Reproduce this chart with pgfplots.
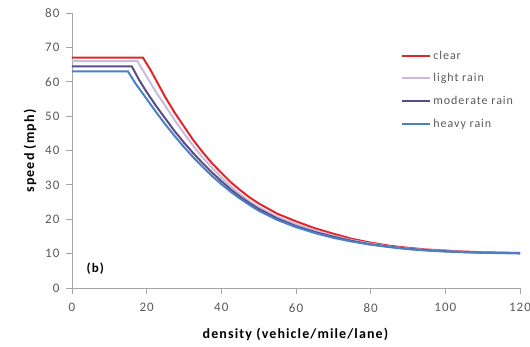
\documentclass[border=0pt]{standalone}
\usepackage{fontspec}
\setmainfont{Carlito}
\newfontfamily\widefont[LetterSpace=8]{Carlito}
\usepackage{pgfplots}
\pgfplotsset{compat=1.18}
\definecolor{cclear}{HTML}{E0262B}
\definecolor{clight}{HTML}{C9BCDB}
\definecolor{cmod}{HTML}{5B4B86}
\definecolor{cheavy}{HTML}{4A80C6}
\definecolor{axgray}{HTML}{A6A6A6}
\definecolor{txgray}{HTML}{595959}
\begin{document}
\begin{tikzpicture}
\useasboundingbox (-72pt,-58pt) rectangle (458pt,288pt);
\begin{axis}[
  at={(0,0)}, anchor=south west,
  scale only axis, width=448pt, height=275pt,
  xmin=0, xmax=120, ymin=0, ymax=80,
  xtick={0,20,...,120}, ytick={0,10,...,80},
  axis x line=bottom, axis y line=left,
  axis line style={draw=axgray, line width=0.8pt, -},
  tick style={draw=axgray, line width=0.8pt},
  major tick length=6pt,
  tick align=outside,
  xtick pos=bottom, ytick pos=left,
  /pgf/number format/assume math mode=true,
  tick label style={font=\widefont\fontsize{13}{14}\selectfont, text=txgray},
  xticklabel style={yshift=-6pt},
  yticklabel style={xshift=-3pt},
  xlabel={\textbf{density (vehicle/mile/lane)}},
  ylabel={\textbf{speed (mph)}},
  label style={font=\widefont\fontsize{14}{15}\selectfont, text=black},
  xlabel style={yshift=-9pt},
  ylabel style={yshift=2pt},
  legend style={at={(0.728,0.878)}, anchor=north west, draw=none, fill=none,
    font=\widefont\fontsize{12}{13}\selectfont, row sep=9pt, text=txgray},
  legend cell align=left,
  legend image code/.code={\draw[#1] (0pt,0pt) -- (28pt,0pt);},
  clip=false,
]
\addplot[cclear, line width=2pt] coordinates {
(0,67) (19,67) (21,63.5) (23,59.5) (25,55.5) (27.5,51) (30,47) (32.5,43) (35,39.5) (37.5,36.3) (40,33.5) (42.5,30.8) (45,28.5) (47.5,26.4) (50,24.6) (55,21.6) (60,19.4) (65,17.4) (70,15.8) (75,14.3) (80,13.2) (85,12.3) (90,11.7) (95,11.2) (100,10.9) (105,10.6) (110,10.4) (115,10.3) (120,10.2)};
\addlegendentry{clear}
\addplot[clight, line width=2pt] coordinates {
(0,66) (17.5,66) (20,61.5) (22.5,57) (25,53) (27.5,48.8) (30,45) (32.5,41.3) (35,38) (37.5,35) (40,32.2) (42.5,29.6) (45,27.3) (47.5,25.3) (50,23.5) (55,20.7) (60,18.6) (65,16.8) (70,15.2) (75,13.9) (80,12.9) (85,12.1) (90,11.5) (95,11.1) (100,10.8) (105,10.5) (110,10.35) (115,10.25) (120,10.2)};
\addlegendentry{light rain}
\addplot[cmod, line width=2pt] coordinates {
(0,64.5) (16,64.5) (18,60.5) (20,57) (22.5,53) (25,49.3) (27.5,45.6) (30,42.3) (32.5,39.2) (35,36.3) (37.5,33.6) (40,31.1) (42.5,28.7) (45,26.6) (47.5,24.7) (50,23) (55,20.2) (60,18) (65,16.3) (70,14.9) (75,13.7) (80,12.7) (85,12) (90,11.4) (95,11) (100,10.7) (105,10.45) (110,10.3) (115,10.2) (120,10.1)};
\addlegendentry{moderate rain}
\addplot[cheavy, line width=2pt] coordinates {
(0,63) (15,63) (17,59.5) (20,55) (22.5,51.2) (25,47.6) (27.5,44.2) (30,41) (32.5,38) (35,35.2) (37.5,32.6) (40,30.2) (42.5,28) (45,26) (47.5,24.2) (50,22.5) (55,19.8) (60,17.7) (65,16) (70,14.6) (75,13.5) (80,12.6) (85,11.9) (90,11.3) (95,10.9) (100,10.6) (105,10.4) (110,10.25) (115,10.15) (120,10.1)};
\addlegendentry{heavy rain}
\node[anchor=west, font=\widefont\bfseries\fontsize{13}{14}\selectfont] at (axis cs:3,5.5) {(b)};
\end{axis}
\end{tikzpicture}
\end{document}
